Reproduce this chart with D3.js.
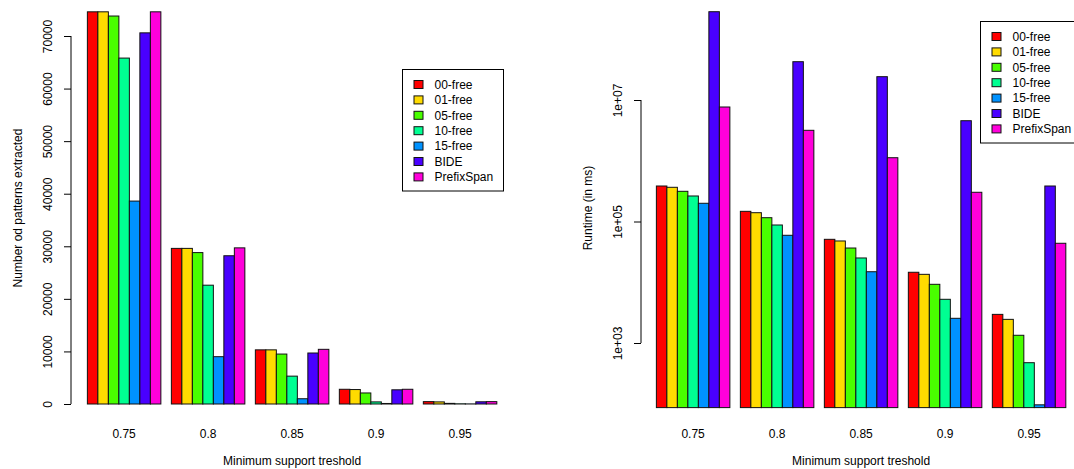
<!DOCTYPE html>
<html>
<head>
<meta charset="utf-8">
<script src="https://cdn.jsdelivr.net/npm/d3@7/dist/d3.min.js"></script>
<style>
  html, body { margin: 0; padding: 0; background: #fff; }
  svg { display: block; }
  text { font-family: "Liberation Sans", Arial, Helvetica, sans-serif; font-size: 12px; fill: #000; }
</style>
</head>
<body>
<svg id="chart" width="1074" height="469"></svg>
<script>
// ---------- data ----------
const categories = ["0.75", "0.8", "0.85", "0.9", "0.95"];
const seriesNames = ["00-free", "01-free", "05-free", "10-free", "15-free", "BIDE", "PrefixSpan"];
const seriesColors = ["#FF0000", "#FFDB00", "#49FF00", "#00FF92", "#0092FF", "#4900FF", "#FF00DB"];

// Number of patterns extracted (left chart), one array per series
const patterns00free = [74600, 29600, 10300, 2800, 450];
const patterns01free = [74600, 29600, 10300, 2750, 400];
const patterns05free = [73800, 28800, 9500, 2100, 120];
const patterns10free = [65800, 22600, 5300, 400, 40];
const patterns15free = [38600, 9000, 1000, 100, 20];
const patternsBIDE = [70600, 28200, 9700, 2700, 420];
const patternsPrefixSpan = [74600, 29700, 10400, 2800, 450];

// Runtime in ms (right chart, log scale)
const runtime00free = [384000, 147000, 50900, 14600, 2960];
const runtime01free = [365600, 139600, 47800, 13500, 2450];
const runtime05free = [314000, 115500, 36600, 9250, 1340];
const runtime10free = [263000, 87600, 25100, 5240, 474];
const runtime15free = [199500, 59300, 14900, 2550, 96];
const runtimeBIDE = [284000000, 42700000, 24200000, 4560000, 384000];
const runtimePrefixSpan = [7670000, 3170000, 1122000, 302700, 43800];

const leftTicks = [0, 10000, 20000, 30000, 40000, 50000, 60000, 70000];
const rightTicks = [1e3, 1e5, 1e7];
const rightTickLabels = ["1e+03", "1e+05", "1e+07"];

const patternsMatrix = [patterns00free, patterns01free, patterns05free, patterns10free, patterns15free, patternsBIDE, patternsPrefixSpan];
const runtimeMatrix = [runtime00free, runtime01free, runtime05free, runtime10free, runtime15free, runtimeBIDE, runtimePrefixSpan];

// ---------- drawing ----------
const svg = d3.select("#chart");

function drawPanel(opt) {
  const g = svg.append("g");
  const x = opt.x, y = opt.y;
  const nS = seriesNames.length;
  // bars
  categories.forEach((cat, i) => {
    seriesNames.forEach((s, j) => {
      const u = i * (nS + 1) + 1 + j;
      const v = opt.values[j][i];
      const y0 = y(opt.base), y1 = y(v);
      g.append("rect")
        .attr("x", x(u))
        .attr("width", x(u + 1) - x(u))
        .attr("y", Math.min(y0, y1))
        .attr("height", Math.abs(y0 - y1))
        .attr("fill", seriesColors[j])
        .attr("stroke", "#111")
        .attr("stroke-width", 1);
    });
    // category label
    const uc = i * (nS + 1) + 1 + nS / 2;
    g.append("text")
      .attr("x", x(uc)).attr("y", 438)
      .attr("text-anchor", "middle")
      .text(cat);
  });

  // y axis (R style: line only spanning the ticks)
  const ax = opt.axisX;
  const axis = d3.axisLeft(y).tickValues(opt.ticks).tickSize(7).tickSizeOuter(0)
    .tickFormat((d, k) => opt.tickLabels[k]);
  const ag = g.append("g").attr("transform", `translate(${ax},0)`).call(axis);
  ag.select(".domain").remove();
  ag.selectAll(".tick line").attr("stroke", "#000");
  ag.selectAll(".tick text")
    .attr("x", 0).attr("dy", null)
    .attr("transform", "translate(-19,0) rotate(-90)")
    .attr("text-anchor", "middle")
    .attr("font-family", null).attr("font-size", null)
    .attr("y", 0);
  ag.append("line")
    .attr("x1", 0).attr("x2", 0)
    .attr("y1", y(opt.ticks[0])).attr("y2", y(opt.ticks[opt.ticks.length - 1]))
    .attr("stroke", "#000");

  // axis titles
  g.append("text")
    .attr("transform", `translate(${ax - 49},208) rotate(-90)`)
    .attr("text-anchor", "middle")
    .text(opt.yTitle);
  g.append("text")
    .attr("x", (x.range()[0] + x.range()[1]) / 2).attr("y", 465)
    .attr("text-anchor", "middle")
    .text("Minimum support treshold");

  // legend
  const lg = g.append("g").attr("transform", `translate(${opt.legendX},${opt.legendY})`);
  lg.append("rect")
    .attr("x", 0).attr("y", 0).attr("width", 101).attr("height", 121.5)
    .attr("fill", "#fff").attr("stroke", "#000").attr("stroke-width", 1);
  seriesNames.forEach((s, j) => {
    const cy = 15 + j * 15.4;
    lg.append("rect")
      .attr("x", 11.5).attr("y", cy - 4).attr("width", 9).attr("height", 8)
      .attr("fill", seriesColors[j]).attr("stroke", "#111").attr("stroke-width", 1);
    lg.append("text")
      .attr("x", 32).attr("y", cy + 4.3)
      .text(s);
  });
}

// Left panel
const xLeft = d3.scaleLinear().domain([-0.56, 41.56]).range([71, 513.2]);
const yLeft = d3.scaleLinear().domain([0, 70000]).range([404, 36]);
drawPanel({
  x: xLeft, y: yLeft, values: patternsMatrix, base: 0,
  ticks: leftTicks, tickLabels: leftTicks.map(String),
  axisX: 71, yTitle: "Number od patterns extracted",
  legendX: 402.5, legendY: 69.5
});

// Right panel (log scale, bars start at 0.9 * min as R barplot does)
const xRight = d3.scaleLinear().domain([-0.56, 41.56]).range([640, 1082.2]);
const yRight = d3.scaleLog().domain([1e3, 1e7]).range([343, 100]);
const minRuntime = d3.min(runtimeMatrix.flat());
drawPanel({
  x: xRight, y: yRight, values: runtimeMatrix, base: 0.9 * minRuntime,
  ticks: rightTicks, tickLabels: rightTickLabels,
  axisX: 641, yTitle: "Runtime (in ms)",
  legendX: 980.5, legendY: 21.5
});
</script>
</body>
</html>
